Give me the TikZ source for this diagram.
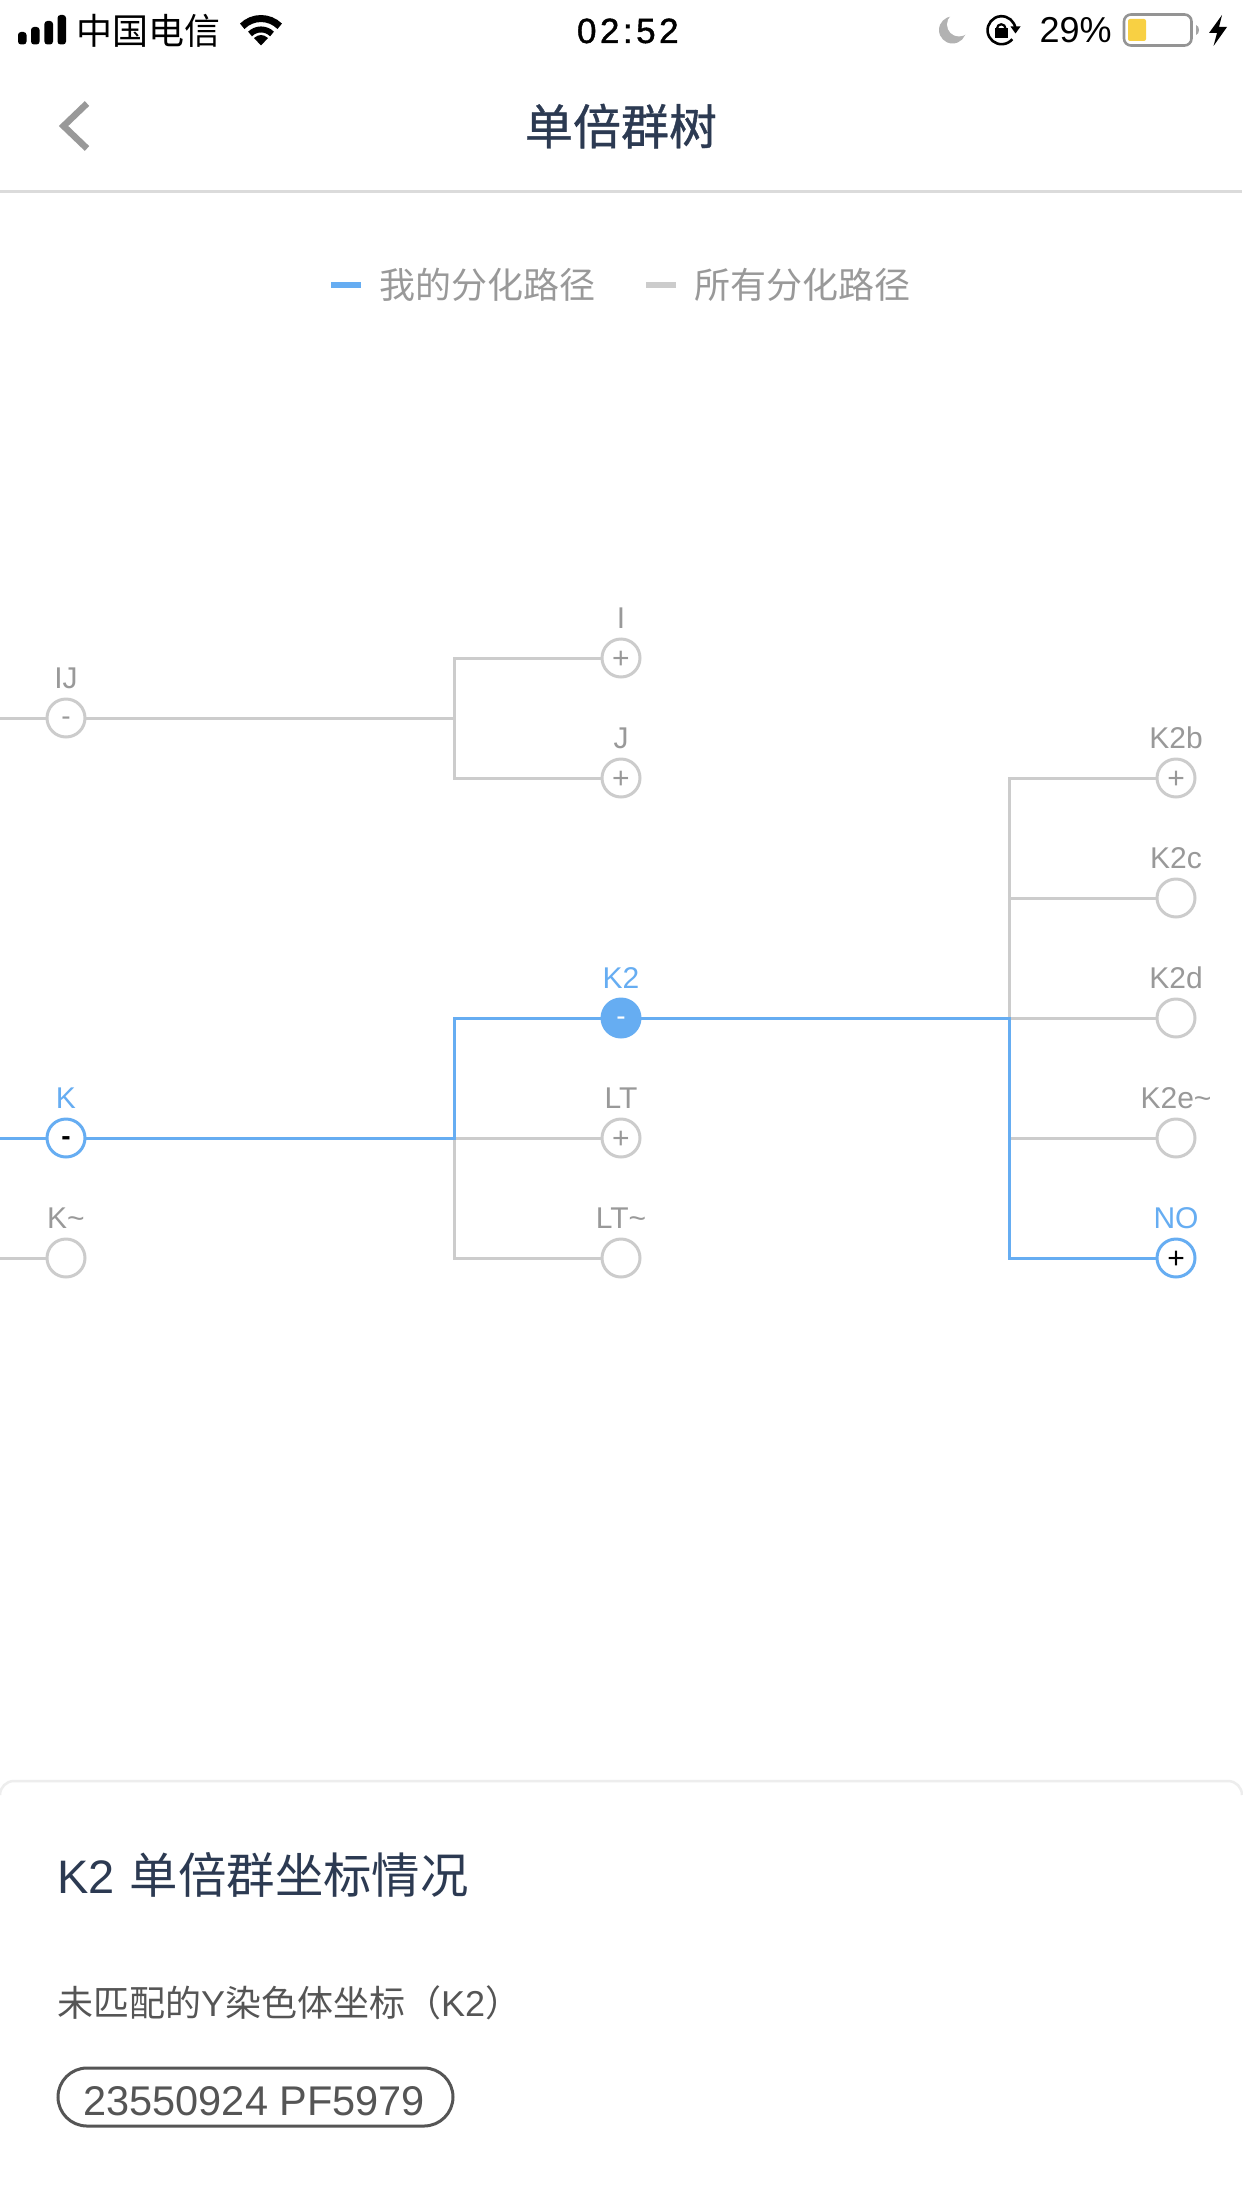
\documentclass[tikz,border=0pt]{standalone}
\usepackage{fontspec}
\setmainfont{Liberation Sans}
\newfontfamily\cjk{Noto Sans CJK SC}
\newfontfamily\cjkmed[FakeBold=0.8]{Noto Sans CJK SC}
\newfontfamily\timefont[LetterSpace=10,FakeBold=1.2]{Liberation Sans}
\definecolor{lineblue}{HTML}{66ADF2}
\definecolor{linegray}{HTML}{CCCCCC}
\definecolor{labgray}{HTML}{999999}
\definecolor{navy}{HTML}{2C3A52}
\definecolor{body}{HTML}{555555}
\definecolor{yell}{HTML}{F8D043}
\tikzset{
  x=1pt,y=-1pt,
  txt/.style={inner sep=0,outer sep=0,anchor=base west},
  hnode/.style={circle,draw=linegray,fill=white,line width=3pt,minimum size=38pt,inner sep=0,outer sep=0},
  bluenode/.style={hnode,draw=lineblue},
  plus/.style={font=\fontsize{30}{30}\selectfont,text=labgray,text height=20pt,text depth=0pt},
  minus/.style={font=\fontsize{28}{28}\selectfont,text=labgray,text height=15pt,text depth=0pt},
  hlabel/.style={inner sep=0,outer sep=0,anchor=base,font=\fontsize{30}{32}\selectfont,text=labgray},
  blabel/.style={hlabel,text=lineblue},
  gline/.style={draw=linegray,line width=3pt},
  bline/.style={draw=lineblue,line width=3pt},
  barsig/.style={fill=black,rounded corners=3pt},
}
\begin{document}
\begin{tikzpicture}
\useasboundingbox (0,0) rectangle (1242,2208);
\fill[white] (0,0) rectangle (1242,2208);

% status bar
\fill[barsig] (18,32) rectangle (26.5,44.5);
\fill[barsig] (31,27) rectangle (39.6,44.5);
\fill[barsig] (44.4,21) rectangle (53,44.5);
\fill[barsig] (57.5,15) rectangle (66,44.5);
\node[txt,font=\fontsize{36}{40}\selectfont\cjk] (carrier) at (76.5,44.5) {中国电信};
\draw[line width=7pt] (279.7,26.3) arc[start angle=45,end angle=135,radius=26.5pt];
\draw[line width=6pt] (272,34) arc[start angle=45,end angle=135,radius=15.5pt];
\fill (261,45.5) -- (268,38) .. controls (263,34) and (259,34) .. (254,38) -- cycle;
\node[txt,font=\fontsize{35}{40}\selectfont\timefont] (clock) at (577,43) {02:52};
\fill[black!30] (952.5,30) circle[radius=13.5pt];
\fill[white] (959,24.5) circle[radius=12pt];
\draw[line width=2.6pt] (1015.5,29) arc[start angle=5,end angle=320,radius=14pt];
\fill (1010.5,26.5) -- (1020.5,26.5) -- (1015.5,33.5) -- cycle;
\fill (995,28.5) rectangle (1007.5,38.5);
\draw[line width=2.2pt] (1005.5,28.5) arc[start angle=0,end angle=180,radius=4.25pt];
\node[txt,font=\fontsize{36}{40}\selectfont] (batt) at (1039.5,43) {29\%};
\draw[draw=black!42,line width=2.6pt,rounded corners=7pt] (1124,14.5) rectangle (1191.5,45.5);
\fill[yell,rounded corners=2pt] (1128,19) rectangle (1146,41);
\fill[black!35] (1196,25) .. controls (1200,26) and (1200,34) .. (1196,35) -- cycle;
\fill (1222,15) -- (1209,33) -- (1217,33) -- (1213.5,46) -- (1227,27) -- (1219,27) -- cycle;

% navigation
\draw[draw=black!40,line width=6.5pt] (87,103.5) -- (63.5,126) -- (87,148.5);
\node[anchor=base,inner sep=0,font=\fontsize{48}{50}\selectfont\cjkmed,text=navy] (title) at (621,144.5) {单倍群树};
\draw[draw=black!14,line width=3pt] (0,191) -- (1242,191);

% legend
\fill[lineblue] (331,282) rectangle (361,288);
\node[txt,font=\fontsize{36}{40}\selectfont\cjk,text=labgray] (leg1) at (379,298) {我的分化路径};
\fill[linegray] (646,282) rectangle (676,288);
\node[txt,font=\fontsize{36}{40}\selectfont\cjk,text=labgray] (leg2) at (694.5,298) {所有分化路径};

% tree nodes
\coordinate (edgeIJ) at (0,718);
\coordinate (edgeK) at (0,1138);
\coordinate (edgeKt) at (0,1258);
\coordinate (sa) at (454,718);
\coordinate (sb) at (454,1138);
\coordinate (sc) at (1009.5,1018);
\coordinate (sd) at (1009.5,898);
\coordinate (se) at (1009.5,1138);

\node[hnode,minus] (IJ) at (66,718) {-};
\node[hnode,plus] (I) at (621,658) {+};
\node[hnode,plus] (J) at (621,778) {+};
\node[hnode,fill=lineblue,draw=lineblue,minus,text=white] (K2) at (621,1018) {-};
\node[bluenode,minus,text=black,font=\fontsize{28}{28}\selectfont\bfseries] (K) at (66,1138) {-};
\node[hnode,plus] (LT) at (621,1138) {+};
\node[hnode] (Kt) at (66,1258) {};
\node[hnode] (LTt) at (621,1258) {};
\node[hnode,plus] (K2b) at (1176,778) {+};
\node[hnode] (K2c) at (1176,898) {};
\node[hnode] (K2d) at (1176,1018) {};
\node[hnode] (K2e) at (1176,1138) {};
\node[bluenode,plus,text=black] (NO) at (1176,1258) {+};

% connectors
\draw[gline] (edgeIJ) -- (IJ);
\draw[gline] (IJ) -- (sa);
\draw[gline] (I) -| (sa) |- (J);
\draw[gline] (edgeKt) -- (Kt);
\draw[gline] (sb) -- (LT);
\draw[gline] (sb) |- (LTt);
\draw[gline] (K2b) -| (sc);
\draw[gline] (sd) -- (K2c);
\draw[gline] (sc) -- (K2d);
\draw[gline] (se) -- (K2e);
\draw[bline] (edgeK) -- (K);
\draw[bline] (K) -- (sb) |- (K2);
\draw[bline] (K2) -- (sc) |- (NO);

% labels
\node[hlabel] (lIJ) at (66,688.5) {IJ};
\node[hlabel] (lI) at (621,628.5) {I};
\node[hlabel] (lJ) at (621,748.5) {J};
\node[blabel] (lK2) at (621,988.5) {K2};
\node[blabel] (lK) at (66,1108.5) {K};
\node[hlabel] (lLT) at (621,1108.5) {LT};
\node[hlabel] (lKt) at (66,1228.5) {K\char`\~};
\node[hlabel] (lLTt) at (621,1228.5) {LT\char`\~};
\node[hlabel] (lK2b) at (1176,748.5) {K2b};
\node[hlabel] (lK2c) at (1176,868.5) {K2c};
\node[hlabel] (lK2d) at (1176,988.5) {K2d};
\node[hlabel] (lK2e) at (1176,1108.5) {K2e\char`\~};
\node[blabel] (lNO) at (1176,1228.5) {NO};

% bottom panel
\draw[draw=black!7,line width=2.5pt] (0,1795) arc[start angle=180,end angle=90,radius=14pt] -- (1228,1781) arc[start angle=90,end angle=0,radius=14pt];
\node[txt,font=\fontsize{47}{50}\selectfont,text=navy] (ptitle) at (57,1893) {K2\hspace{15.5pt}{\fontsize{48.4}{50}\selectfont\cjk 单倍群坐标情况}};
\node[txt,font=\fontsize{36}{40}\selectfont,text=body] (psub) at (57,2016) {{\cjk 未匹配的}Y{\cjk 染色体坐标（}K2{\cjk ）}};
\node[draw=body,line width=3pt,rounded corners=29pt,minimum width=395pt,minimum height=58pt,inner sep=0,outer sep=0] (pill) at (255.5,2097) {};
\node[txt,font=\fontsize{41.5}{44}\selectfont,text=body] (pilltext) at (83.5,2115) {23550924 PF5979};
\end{tikzpicture}
\end{document}
